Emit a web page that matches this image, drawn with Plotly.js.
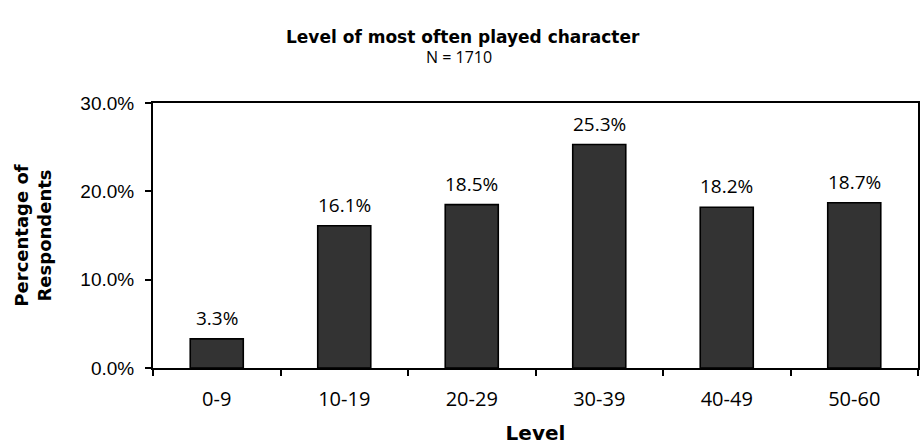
<!DOCTYPE html>
<html>
<head>
<meta charset="utf-8">
<script src="https://cdn.plot.ly/plotly-3.0.1.min.js"></script>
<style>
  html, body { margin: 0; padding: 0; background: #fff; }
  #chart { width: 922px; height: 448px; }
</style>
</head>
<body>
<div id="chart"></div>
<script>
// Level bands and the share of respondents in each (percent)
const levels = ["0-9", "10-19", "20-29", "30-39", "40-49", "50-60"];
const shares = [3.3, 16.1, 18.5, 25.3, 18.2, 18.7];
const yTickValues = [0, 10, 20, 30];
const yTickLabels = ["0.0%", "10.0%", "20.0%", "30.0%"];

const BOLD = "DejaVu Sans, Verdana, sans-serif";
const LIGHT = "Open Sans, Segoe UI, sans-serif";
const TICK = "Liberation Sans, Arial, sans-serif";

const trace = {
  type: "bar",
  x: levels,
  y: shares,
  width: 0.416,
  marker: { color: "#333333", line: { color: "#000000", width: 1.6 } },
  hoverinfo: "skip"
};

// value labels sit just above each bar
const valueLabels = levels.map((lv, i) => ({
  xref: "x", yref: "y", x: lv, y: shares[i],
  xanchor: "center", yanchor: "bottom", yshift: 6,
  text: shares[i].toFixed(1) + "%",
  showarrow: false,
  font: { family: LIGHT, size: 19, color: "#000" }
}));

const layout = {
  width: 922,
  height: 448,
  margin: { l: 153, r: 4, t: 103, b: 80 },
  paper_bgcolor: "#fff",
  plot_bgcolor: "#fff",
  font: { family: LIGHT, size: 16, color: "#000" },
  showlegend: false,
  xaxis: {
    type: "category",
    tickson: "boundaries",
    ticks: "outside",
    ticklen: 6,
    tickwidth: 2,
    tickcolor: "#000",
    ticklabelstandoff: 12,
    showline: true,
    linecolor: "#000",
    linewidth: 2,
    mirror: true,
    showgrid: false,
    zeroline: false,
    tickfont: { family: LIGHT, size: 20, color: "#000" },
    title: { text: "<b>Level</b>", font: { family: BOLD, size: 20, color: "#000" }, standoff: 15 }
  },
  yaxis: {
    range: [0, 30],
    tickvals: yTickValues,
    ticktext: yTickLabels,
    ticks: "outside",
    ticklen: 6,
    tickwidth: 2,
    tickcolor: "#000",
    ticklabelstandoff: 7,
    showline: true,
    linecolor: "#000",
    linewidth: 2,
    mirror: true,
    showgrid: false,
    zeroline: false,
    tickfont: { family: TICK, size: 19, color: "#000" },
    title: { text: "<b>Percentage of<br>Respondents</b>", font: { family: BOLD, size: 18, color: "#000" }, standoff: 24 }
  },
  annotations: valueLabels.concat([
    {
      xref: "paper", yref: "paper", x: 0.405, y: 1.249, xanchor: "center", yanchor: "middle",
      text: "<b>Level of most often played character</b>",
      showarrow: false,
      font: { family: BOLD, size: 17, color: "#000" }
    },
    {
      xref: "paper", yref: "paper", x: 0.40, y: 1.174, xanchor: "center", yanchor: "middle",
      text: "N = 1710",
      showarrow: false,
      font: { family: LIGHT, size: 16, color: "#000" }
    }
  ])
};

Plotly.newPlot("chart", [trace], layout, { displayModeBar: false, staticPlot: true });
</script>
</body>
</html>
